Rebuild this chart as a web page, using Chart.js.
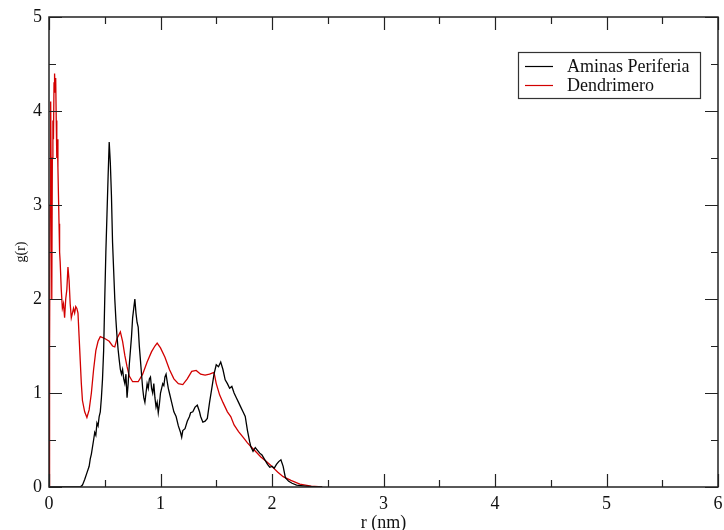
<!DOCTYPE html>
<html>
<head>
<meta charset="utf-8">
<script src="https://cdn.jsdelivr.net/npm/chart.js@4/dist/chart.umd.min.js"></script>
<style>
  html, body { margin: 0; padding: 0; background: #fff; }
  #wrap { width: 724px; height: 530px; }
</style>
</head>
<body>
<div id="wrap"><canvas id="grChart" width="724" height="530"></canvas></div>
<script>
// radial distribution functions, r in nm
var aminasR = [0, 0.28, 0.30, 0.32, 0.34, 0.36, 0.37, 0.38, 0.40, 0.41, 0.42, 0.43, 0.44, 0.45, 0.46, 0.47, 0.48, 0.49,
    0.50, 0.51, 0.52, 0.53, 0.54, 0.55, 0.56, 0.57, 0.58, 0.59, 0.60, 0.61, 0.62, 0.63, 0.64, 0.65, 0.66, 0.67, 0.68, 0.69,
    0.70, 0.71, 0.72, 0.73, 0.74, 0.75, 0.76, 0.77, 0.78, 0.79, 0.80, 0.81, 0.82, 0.83, 0.84, 0.85, 0.86, 0.87, 0.88, 0.89,
    0.90, 0.91, 0.92, 0.93, 0.94, 0.95, 0.96, 0.97, 0.98, 0.99, 1.00, 1.01, 1.02, 1.03, 1.04, 1.05, 1.06, 1.07, 1.08,
    1.10, 1.12, 1.14, 1.16, 1.18, 1.19, 1.20, 1.22, 1.24, 1.26, 1.27, 1.29, 1.31, 1.33, 1.35, 1.36, 1.38, 1.40, 1.42,
    1.44, 1.46, 1.48, 1.50, 1.52, 1.54, 1.56, 1.58, 1.60, 1.62, 1.64, 1.66, 1.68, 1.70, 1.72, 1.74, 1.76, 1.78, 1.80,
    1.81, 1.83, 1.85, 1.87, 1.89, 1.91, 1.92, 1.94, 1.96, 1.98, 2.00, 2.02, 2.04, 2.06, 2.08, 2.10, 2.12, 2.15, 2.18,
    2.22, 2.30, 2.40, 2.45];
var aminasG = [0, 0, 0.02, 0.08, 0.15, 0.22, 0.30, 0.35, 0.50, 0.58, 0.55, 0.68, 0.65, 0.75, 0.80, 0.95, 1.15, 1.45,
    2.00, 2.50, 2.90, 3.30, 3.67, 3.45, 3.10, 2.60, 2.30, 2.00, 1.78, 1.60, 1.46, 1.35, 1.25, 1.20, 1.25, 1.15, 1.10, 1.20,
    0.95, 1.10, 1.30, 1.45, 1.60, 1.80, 1.90, 2.00, 1.85, 1.75, 1.70, 1.50, 1.35, 1.20, 1.05, 0.95, 0.90, 1.00, 1.10, 1.05,
    1.15, 1.17, 1.05, 1.00, 1.10, 0.95, 0.85, 0.90, 0.79, 0.88, 1.00, 1.05, 1.10, 1.08, 1.17, 1.20, 1.12, 1.05, 1.00,
    0.90, 0.80, 0.75, 0.65, 0.58, 0.53, 0.60, 0.62, 0.70, 0.75, 0.79, 0.80, 0.85, 0.87, 0.80, 0.75, 0.69, 0.70, 0.73,
    0.90, 1.05, 1.20, 1.30, 1.28, 1.33, 1.25, 1.14, 1.10, 1.05, 1.07, 1.00, 0.95, 0.90, 0.85, 0.80, 0.75, 0.60, 0.48,
    0.43, 0.38, 0.42, 0.39, 0.36, 0.34, 0.32, 0.28, 0.24, 0.21, 0.22, 0.20, 0.24, 0.27, 0.29, 0.22, 0.10, 0.06, 0.04,
    0.02, 0.01, 0, 0];

var dendR = [0, 0.005, 0.01, 0.015, 0.02, 0.025, 0.03, 0.035, 0.04, 0.045, 0.05, 0.055, 0.06, 0.065, 0.07, 0.075, 0.08,
    0.085, 0.09, 0.095, 0.10, 0.11, 0.12, 0.13, 0.14, 0.15, 0.16, 0.17, 0.18, 0.19, 0.20, 0.21, 0.22, 0.23, 0.24, 0.25,
    0.26, 0.27, 0.28, 0.29, 0.30, 0.32, 0.34, 0.36, 0.38, 0.40, 0.42, 0.44, 0.46, 0.50, 0.54, 0.57, 0.59, 0.61, 0.64,
    0.66, 0.68, 0.70, 0.72, 0.75, 0.80, 0.84, 0.88, 0.92, 0.95, 0.97, 1.00, 1.04, 1.08, 1.12, 1.16, 1.20, 1.24, 1.28,
    1.32, 1.36, 1.40, 1.44, 1.48, 1.50, 1.53, 1.56, 1.60, 1.63, 1.66, 1.70, 1.74, 1.78, 1.81, 1.86, 1.90, 1.95, 1.99,
    2.05, 2.10, 2.17, 2.25, 2.35, 2.45];
var dendG = [0, 1.5, 3.0, 4.1, 3.2, 2.0, 3.5, 3.9, 3.7, 4.3, 4.4, 4.2, 4.35, 3.9, 3.5, 3.7, 3.4,
    3.1, 2.8, 2.5, 2.4, 2.1, 1.9, 1.95, 1.8, 2.0, 2.1, 2.34, 2.2, 1.95, 1.8, 1.85, 1.9, 1.85, 1.92, 1.9,
    1.85, 1.60, 1.35, 1.10, 0.92, 0.80, 0.74, 0.82, 1.00, 1.25, 1.45, 1.55, 1.60, 1.58, 1.55, 1.50, 1.49, 1.58, 1.65,
    1.55, 1.40, 1.28, 1.18, 1.12, 1.12, 1.20, 1.33, 1.44, 1.50, 1.53, 1.48, 1.38, 1.25, 1.15, 1.10, 1.09, 1.15, 1.23,
    1.24, 1.20, 1.19, 1.20, 1.22, 1.10, 0.98, 0.90, 0.80, 0.75, 0.66, 0.59, 0.53, 0.47, 0.43, 0.37, 0.32, 0.27, 0.23,
    0.16, 0.11, 0.07, 0.03, 0.01, 0];

var seriesNames = ["Aminas Periferia", "Dendrimero"];
var seriesColors = ["#000000", "rgb(210,0,0)"];

var xTicks = [0, 1, 2, 3, 4, 5, 6];
var yTicks = [0, 1, 2, 3, 4, 5];

function toPoints(rs, gs) {
    var pts = [];
    for (var i = 0; i < rs.length; i++) pts.push({ x: rs[i], y: gs[i] });
    return pts;
}

var serif = "'Liberation Serif', 'Times New Roman', serif";

// grace-style frame: box, inward major/minor ticks on all four sides, boxed legend
var framePlugin = {
    id: 'frame',
    afterDraw: function (chart) {
        var ctx = chart.ctx;
        var a = chart.chartArea;
        var xs = chart.scales.x, ys = chart.scales.y;
        ctx.save();
        ctx.strokeStyle = '#222';
        ctx.lineWidth = 1.5;
        ctx.strokeRect(a.left, a.top, a.right - a.left, a.bottom - a.top);
        ctx.lineWidth = 1.2;
        ctx.beginPath();
        for (var v = xs.min; v <= xs.max + 1e-9; v += 0.5) {
            var px = Math.round(xs.getPixelForValue(v)) + 0.5;
            var len = (Math.abs(v - Math.round(v)) < 1e-9) ? 13 : 7;
            ctx.moveTo(px, a.bottom); ctx.lineTo(px, a.bottom - len);
            ctx.moveTo(px, a.top); ctx.lineTo(px, a.top + len);
        }
        for (var w = ys.min; w <= ys.max + 1e-9; w += 0.5) {
            var py = Math.round(ys.getPixelForValue(w)) + 0.5;
            var l2 = (Math.abs(w - Math.round(w)) < 1e-9) ? 13 : 7;
            ctx.moveTo(a.left, py); ctx.lineTo(a.left + l2, py);
            ctx.moveTo(a.right, py); ctx.lineTo(a.right - l2, py);
        }
        ctx.stroke();

        // legend box
        var bx = 518, by = 52, bw = 182, bh = 46;
        ctx.fillStyle = '#fff';
        ctx.fillRect(bx, by, bw, bh);
        ctx.strokeStyle = '#333';
        ctx.lineWidth = 1.2;
        ctx.strokeRect(bx + 0.5, by + 0.5, bw, bh);
        ctx.font = '18px ' + serif;
        ctx.textBaseline = 'middle';
        ctx.textAlign = 'left';
        chart.data.datasets.forEach(function (ds, i) {
            var ry = by + 14 + i * 19;
            ctx.strokeStyle = ds.borderColor;
            ctx.lineWidth = 1.2;
            ctx.beginPath();
            ctx.moveTo(bx + 7, ry + 0.5);
            ctx.lineTo(bx + 35, ry + 0.5);
            ctx.stroke();
            ctx.fillStyle = '#111';
            ctx.fillText(ds.label, bx + 49, ry + 1);
        });
        ctx.restore();
    }
};

var chart = new Chart(document.getElementById('grChart').getContext('2d'), {
    type: 'line',
    data: {
        datasets: [{
            label: seriesNames[0],
            data: toPoints(aminasR, aminasG),
            borderColor: seriesColors[0],
            borderWidth: 1.3,
            pointRadius: 0,
            tension: 0,
            fill: false
        }, {
            label: seriesNames[1],
            data: toPoints(dendR, dendG),
            borderColor: seriesColors[1],
            borderWidth: 1.3,
            pointRadius: 0,
            tension: 0,
            fill: false
        }]
    },
    options: {
        responsive: false,
        animation: false,
        layout: { padding: { top: 17, right: 6, left: 0, bottom: 0 } },
        plugins: {
            legend: { display: false },
            tooltip: { enabled: false }
        },
        scales: {
            x: {
                type: 'linear',
                min: 0,
                max: 6,
                afterFit: function (s) { s.height = 43; s.paddingLeft = 0; s.paddingRight = 0; },
                afterBuildTicks: function (s) { s.ticks = xTicks.map(function (v) { return { value: v }; }); },
                grid: { display: false, drawTicks: false },
                border: { display: false },
                ticks: {
                    padding: 6,
                    color: '#111',
                    maxRotation: 0,
                    font: { family: serif, size: 18 }
                },
                title: {
                    display: true,
                    text: 'r (nm)',
                    color: '#111',
                    padding: { top: 0, bottom: 0 },
                    font: { family: serif, size: 18, lineHeight: 0.8 }
                }
            },
            y: {
                type: 'linear',
                min: 0,
                max: 5,
                afterFit: function (s) { s.width = 49; s.paddingTop = 0; s.paddingBottom = 0; },
                afterBuildTicks: function (s) { s.ticks = yTicks.map(function (v) { return { value: v }; }); },
                grid: { display: false, drawTicks: false },
                border: { display: false },
                ticks: {
                    padding: 7,
                    color: '#111',
                    font: { family: serif, size: 18 }
                },
                title: {
                    display: true,
                    text: 'g(r)',
                    color: '#111',
                    padding: { top: 13, bottom: 0 },
                    font: { family: serif, size: 14, lineHeight: 1.2 }
                }
            }
        }
    },
    plugins: [framePlugin]
});
</script>
</body>
</html>
